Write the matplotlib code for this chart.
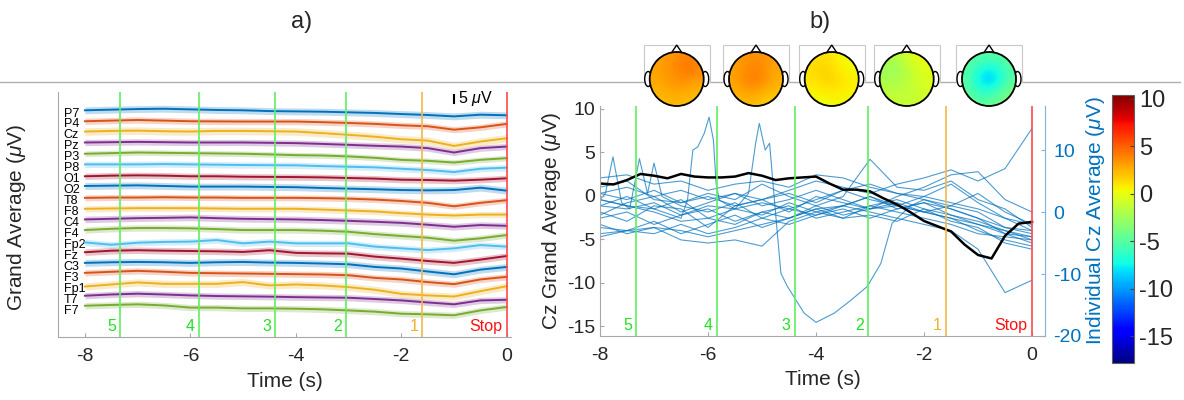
import numpy as np
import matplotlib
matplotlib.use("Agg")
import matplotlib.pyplot as plt
from matplotlib.patches import Circle, Ellipse, Polygon, Rectangle
from matplotlib.colors import Normalize
from matplotlib.cm import ScalarMappable
from matplotlib.transforms import blended_transform_factory

plt.rcParams['font.family'] = ['Liberation Sans', 'DejaVu Sans']
plt.rcParams['mathtext.fontset'] = 'custom'
plt.rcParams['mathtext.rm'] = 'Liberation Sans'
plt.rcParams['mathtext.it'] = 'Liberation Sans:italic'
plt.rcParams['axes.unicode_minus'] = False

# ---------------- data ----------------
# time axis (s), every 0.5 s
time_s = [-8.0, -7.5, -7.0, -6.5, -6.0, -5.5, -5.0, -4.5, -4.0,
          -3.5, -3.0, -2.5, -2.0, -1.5, -1.0, -0.5, 0.0]
# finer time axis (s) for the Cz grand average
time_fine = [-8.0, -7.75, -7.5, -7.25, -7.0, -6.75, -6.5, -6.25, -6.0,
             -5.75, -5.5, -5.25, -5.0, -4.75, -4.5, -4.25, -4.0,
             -3.75, -3.5, -3.25, -3.0, -2.75, -2.5, -2.25, -2.0,
             -1.75, -1.5, -1.25, -1.0, -0.75, -0.5, -0.25, 0.0]

# countdown cues
cue_times = [-7.33, -5.84, -4.39, -3.04, -1.60, 0.0]
cue_labels = ['5', '4', '3', '2', '1', 'Stop']

# a) grand average per channel (uV), top to bottom
channels = ['P7', 'P4', 'Cz', 'Pz', 'P3', 'P8', 'O1', 'O2', 'T8', 'F8',
            'C4', 'F4', 'Fp2', 'Fz', 'C3', 'F3', 'Fp1', 'T7', 'F7']
ch_avg = [
    [1.1, 1.5, 1.9, 2.1, 1.7, 1.3, 1.1, 0.6, 0.4, 0.2, -0.2, -0.6, -1.3, -1.9, -2.8, -1.7, -2.1],   # P7
    [1.1, 1.5, 1.9, 1.5, 1.1, 1.0, 0.9, 0.9, 0.9, 0.5, 0.0, -0.6, -1.5, -2.1, -4.3, -2.8, -0.6],    # P4
    [1.5, 1.9, 2.1, 1.7, 1.5, 1.9, 1.9, 1.7, 1.5, 0.5, -0.6, -1.8, -3.4, -4.3, -7.7, -4.9, -2.8],   # Cz
    [1.5, 1.7, 1.9, 1.7, 1.5, 1.5, 1.5, 1.3, 1.1, 0.6, 0.0, -0.6, -1.1, -2.1, -4.9, -2.1, -1.1],    # Pz
    [1.3, 1.7, 2.1, 1.9, 1.7, 1.5, 1.3, 0.9, 0.4, 0.2, -0.4, -1.3, -2.6, -3.2, -4.3, -2.6, -1.5],   # P3
    [1.5, 1.5, 1.5, 1.7, 1.5, 1.3, 1.1, 1.0, 0.9, 0.4, 0.0, -0.4, -1.3, -2.1, -3.4, -1.3, -0.6],    # P8
    [0.9, 1.3, 1.5, 1.3, 0.9, 0.9, 0.6, 0.5, 0.4, 0.2, -0.2, -0.6, -1.3, -1.5, -1.9, -1.3, -0.4],   # O1
    [1.7, 1.9, 2.1, 1.7, 1.3, 1.3, 1.3, 1.1, 0.9, 0.4, 0.0, -0.4, -0.9, -1.1, -0.9, 0.6, -1.3],     # O2
    [1.1, 1.3, 1.3, 1.5, 1.3, 1.3, 1.1, 1.1, 1.1, 0.9, 0.6, 0.0, -0.9, -2.1, -4.3, -2.1, -0.4],     # T8
    [1.1, 1.3, 1.5, 1.5, 1.5, 1.3, 1.1, 1.1, 1.1, 0.6, 0.0, -0.6, -1.7, -2.6, -3.2, -2.6, -2.6],    # F8
    [1.3, 1.7, 2.1, 2.3, 2.6, 2.1, 1.7, 1.5, 1.3, 0.9, 0.4, -0.2, -0.9, -2.1, -3.4, -2.3, -2.8],    # C4
    [1.5, 2.3, 2.8, 2.8, 2.6, 2.1, 1.5, 1.5, 1.5, 1.1, 0.4, -1.1, -2.3, -3.4, -5.3, -3.8, -1.7],    # F4
    [0.6, -0.9, 0.4, 0.9, 1.1, 2.1, 0.0, 1.1, 0.0, 0.0, 0.0, -2.1, -3.2, -4.3, -3.2, -1.1, -2.1],   # Fp2
    [1.3, 2.3, 2.6, 2.3, 2.1, 1.9, 1.5, 2.6, 0.9, 0.6, 0.4, -1.5, -2.8, -4.3, -5.5, -3.4, -1.1],    # Fz
    [1.5, 1.9, 2.1, 1.9, 1.5, 1.9, 2.1, 1.7, 1.5, 1.1, 0.6, -1.1, -2.1, -4.0, -5.8, -2.8, -1.1],    # C3
    [2.1, 2.8, 3.4, 2.8, 2.1, 1.9, 1.7, 1.5, 1.3, 1.1, 0.6, -1.1, -2.1, -3.8, -5.1, -2.1, -0.4],    # F3
    [0.4, 1.7, 3.0, 2.1, 2.1, 2.1, 3.2, 1.1, 1.7, 1.1, 0.0, -1.7, -4.3, -5.3, -6.0, -2.6, 0.6],     # Fp1
    [1.5, 2.3, 2.8, 2.3, 1.7, 1.3, 1.1, 0.9, 0.6, 0.4, 0.2, -0.6, -1.5, -2.8, -4.0, -1.5, -1.1],    # T7
    [2.1, 2.6, 3.0, 2.3, 0.9, 0.9, 0.4, 0.4, 0.2, -0.2, -0.9, -1.7, -3.0, -3.4, -4.0, -0.9, 1.3],   # F7
]
# half width of the shaded band per channel (uV)
ch_sd = [2.2, 2.0, 2.4, 2.0, 1.8, 2.0, 2.0, 2.2, 1.9, 2.0,
         2.1, 2.0, 2.0, 2.1, 2.2, 2.0, 2.3, 2.0, 2.0]

# b) Cz grand average (uV)
cz_grand = [1.4, 1.3, 1.8, 2.5, 2.3, 2.0, 2.5, 2.2, 2.1, 2.1, 2.2, 2.6, 2.3,
            1.8, 2.0, 2.1, 2.2, 1.4, 0.7, 0.7, 0.5, -0.3, -1.0, -1.9, -2.9,
            -3.5, -4.1, -5.6, -6.8, -7.2, -4.6, -3.2, -3.0]

# b) individual Cz averages (uV), on the 0.5 s grid
cz_subjects = [
    [5.5, 6.0, 4.5, 5.0, 3.5, 4.5, 5.0, 4.0, 6.0, 5.5, 4.0, 3.0, 2.5, 1.5, 0.5, -1.0, -2.0],
    [3.0, 2.0, 3.5, 1.5, 2.5, 1.0, 2.0, 3.0, 1.5, 3.5, 4.5, 3.0, 2.0, 1.0, 0.0, -2.5, -3.0],
    [1.0, 2.5, 0.5, 2.0, -1.0, 0.5, -0.5, 1.5, 0.0, 1.0, 2.5, 0.5, 1.5, -0.5, -1.5, -3.0, -4.5],
    [-1.0, 0.0, -2.0, -0.5, 0.5, -1.5, 0.0, -1.0, 1.0, -0.5, 0.5, 1.5, 0.0, 1.0, 3.0, 0.0, -2.0],
    [-2.5, -3.0, -1.5, -3.5, -2.0, -0.5, -2.5, -1.0, 0.5, -1.0, 1.0, 2.0, 0.5, -1.5, -2.5, -5.0, -6.0],
    [-4.0, -3.0, -3.5, -2.0, -3.5, -2.5, -1.0, -2.0, -0.5, 0.5, -1.0, 0.5, 1.5, 0.5, -1.0, -3.5, -5.0],
    [4.0, 5.0, 2.0, 1.5, 3.0, 2.0, 4.5, 2.5, 1.0, 2.5, 8.5, 4.0, 3.5, 5.0, 2.0, 0.5, -2.5],
    [0.0, -1.5, 1.0, 0.5, -2.5, 1.0, 2.0, 0.0, 2.5, 1.5, 0.5, 2.5, 4.0, 6.0, 6.5, 2.0, 0.0],
    [2.0, 1.0, 0.0, -1.5, -1.0, -2.0, 0.0, 1.0, -1.0, 0.0, 1.0, 0.0, -1.0, -2.0, -3.5, -4.0, -4.5],
    [-0.5, 1.5, 2.5, 0.0, 1.5, 3.0, 1.0, 2.0, 3.5, 2.0, 0.5, 1.0, 2.5, 4.5, 1.5, -1.0, -3.0],
    [-2.0, -3.5, -2.5, -4.5, -5.0, -4.5, -5.5, -1.5, 0.0, -1.0, -0.5, -1.5, 0.5, -0.5, -2.0, -3.5, -4.0],
    [3.0, 4.0, 2.5, 3.5, 2.0, 3.0, 2.0, 3.5, 5.0, 4.0, 3.0, 4.5, 5.5, 6.8, 5.0, 7.0, 13.5],
    [-3.5, -3.0, -2.5, -3.0, -4.0, -3.0, -2.0, -1.0, 0.5, 1.0, 0.0, -1.0, -2.0, -3.0, -6.0, -13.0, -11.0],
]
# subjects with sharp excursions, own time points
subj_a_t = [-8.0, -7.5, -7.0, -6.5, -6.38, -6.28, -6.19, -6.07, -5.98, -5.90, -5.85, -5.79,
            -5.5, -5.0, -4.5, -4.0, -3.5, -3.0, -2.5, -2.0, -1.5, -1.0, -0.5, 0.0]
subj_a_v = [2.0, 1.0, 0.5, -1.0, 1.9, 10.0, 10.5, 12.7, 15.3, 11.6, 4.6, 1.9,
            0.5, 1.5, 0.5, -0.5, 1.0, 2.5, 1.0, 0.0, -1.0, -2.0, -3.0, -4.0]
subj_b_t = [-8.0, -7.5, -7.0, -6.5, -6.0, -5.5, -5.25, -5.12, -5.05, -4.98, -4.94, -4.86,
            -4.77, -4.65, -4.53, -4.22, -4.0, -3.66, -3.35, -3.05, -2.8, -2.59,
            -2.25, -2.0, -1.5, -1.0, -0.5, 0.0]
subj_b_v = [1.0, 0.5, 1.5, -0.5, 1.0, 0.5, 3.0, 11.0, 14.3, 11.5, 10.0, 11.1,
            1.9, -9.9, -12.0, -16.3, -17.8, -16.3, -14.2, -12.0, -8.3, -1.8,
            1.0, 2.0, 0.5, -1.0, -2.5, -3.5]
subj_c_t = [-8.0, -7.9, -7.76, -7.6, -7.45, -7.27, -7.12, -7.0, -6.85, -6.5, -6.0, -5.5,
            -5.0, -4.5, -4.0, -3.5, -3.0, -2.5, -2.0, -1.5, -1.0, -0.5, 0.0]
subj_c_v = [2.0, 3.0, 8.9, 1.5, 0.5, 8.6, 3.0, 7.9, 2.5, 1.0, 0.0, 1.5,
            -1.0, 0.5, 2.0, 3.5, 2.0, 1.0, 0.0, -1.0, -3.0, -4.5, -5.5]

# scalp maps (uV), 5x5 samples each, front at top
topo_1 = [[3.0, 3.2, 3.6, 4.0, 3.6], [3.0, 3.3, 3.8, 4.5, 3.8], [2.8, 3.2, 3.5, 3.6, 3.2],
          [2.5, 2.8, 3.0, 2.8, 2.5], [2.2, 2.3, 2.4, 2.2, 2.0]]
topo_2 = [[3.0, 3.4, 3.6, 3.4, 3.0], [3.0, 3.6, 3.8, 3.4, 2.8], [3.0, 3.8, 4.2, 3.4, 2.6],
          [2.6, 3.2, 3.2, 2.6, 2.2], [2.2, 2.4, 2.2, 1.8, 1.6]]
topo_3 = [[1.0, 1.2, 1.0, 0.4, 0.2], [1.2, 1.6, 1.2, 0.6, 0.3], [1.0, 1.4, 1.6, 1.0, 0.6],
          [0.6, 0.8, 1.0, 0.8, 0.6], [0.2, 0.2, 0.4, 0.4, 0.4]]
topo_4 = [[-2.0, -1.8, -0.8, 0.0, 0.2], [-2.4, -2.6, -1.6, -0.6, -0.2], [-2.2, -2.2, -1.6, -0.8, -0.4],
          [-1.6, -1.6, -1.4, -1.0, -0.6], [-1.2, -1.2, -1.2, -1.0, -0.8]]
topo_5 = [[-4.5, -5.0, -5.2, -5.0, -4.5], [-5.0, -6.5, -7.5, -6.5, -5.0], [-5.2, -7.5, -9.0, -7.5, -5.0],
          [-4.8, -6.5, -7.0, -5.5, -4.0], [-4.2, -5.0, -4.8, -4.0, -3.4]]
topo_maps = [topo_1, topo_2, topo_3, topo_4, topo_5]
cbar_ticks = [-15, -10, -5, 0, 5, 10]

# ---------------- style ----------------
matlab_colors = ['#0072BD', '#D95319', '#EDB120', '#7E2F8E', '#77AC30', '#4DBEEE', '#A2142F']
cue_line_colors = ['#60f060'] * 4 + ['#f2b84b', '#ff4a4a']
cue_text_colors = ['#22e022'] * 4 + ['#f0b030', '#ff1010']
axis_gray = '#a8a8a8'
text_dark = '#262626'
blue = '#0072BD'

fig = plt.figure(figsize=(11.84, 4.0), dpi=100)

# overlay for the separator line and the scalp maps (pixel coordinates)
ov = fig.add_axes([0, 0, 1, 1])
ov.axis('off')
ov.plot([0, 1180], [82, 82], color='#b0b0b0', lw=1, zorder=0)

norm = Normalize(vmin=-17.8, vmax=10.4)
head_x = [676.7, 756, 831.7, 906.7, 989]
head_y, r = 79, 27
for cx, tmap in zip(head_x, topo_maps):
    ov.add_patch(Rectangle((cx - 33, 45), 66, 37, fill=False, ec='#c8c8c8', lw=0.8, zorder=0))
    for sx in (-1, 1):
        ov.add_patch(Ellipse((cx + sx * (r + 1.5), head_y), 7, 15, fc='white', ec='black', lw=1, zorder=1))
    ov.add_patch(Polygon([[cx - 6, head_y - r + 2], [cx, head_y - r - 7], [cx + 6, head_y - r + 2]],
                         closed=True, fc='white', ec='black', lw=1, zorder=1))
    im = ov.imshow(np.array(tmap), cmap='jet', norm=norm, interpolation='bicubic',
                   extent=(cx - r, cx + r, head_y + r, head_y - r), aspect='auto', zorder=2)
    im.set_clip_path(Circle((cx, head_y), r, transform=ov.transData))
    ov.add_patch(Circle((cx, head_y), r, fill=False, ec='black', lw=1.3, zorder=3))
ov.set_xlim(0, 1184)
ov.set_ylim(400, 0)

fig.text(302 / 1184, 1 - 22 / 400, 'a)', fontsize=17, ha='center', va='center', color=text_dark)
fig.text(820 / 1184, 1 - 22 / 400, 'b)', fontsize=17, ha='center', va='center', color=text_dark)

# ---------------- a) ----------------
axa = fig.add_axes([58 / 1184, 63 / 400, 453 / 1184, 245 / 400])
n = len(channels)
spacing = 7.0
offsets = [(n - 1 - i) * spacing for i in range(n)]
for i, (vals, sd) in enumerate(zip(ch_avg, ch_sd)):
    c = matlab_colors[i % 7]
    y = np.array(vals) + offsets[i]
    axa.fill_between(time_s, y - sd, y + sd, color=c, alpha=0.25, lw=0)
    axa.plot(time_s, y, color=c, lw=1.4)

tra = blended_transform_factory(axa.transData, axa.transAxes)
for t, lab, lc, tc in zip(cue_times, cue_labels, cue_line_colors, cue_text_colors):
    axa.axvline(t, color=lc, lw=1.2)
    axa.text(t - 0.08, 0.012, lab, color=tc, fontsize=11.5, ha='right', va='bottom', transform=tra)

# 5 uV scale bar
axa.plot([-1.0, -1.0], [132, 137], color='black', lw=1.5)
axa.text(-0.92, 134.5, r'5 $\mu$V', fontsize=11.5, ha='left', va='center', color='black')

axa.set_xlim(-8.51, 0.08)
axa.set_ylim(-17.9, 138.8)
axa.set_xticks([-8, -6, -4, -2, 0])
axa.set_yticks(offsets, channels)
axa.tick_params(axis='y', length=0, pad=-4, labelsize=9, labelcolor='black')
for lbl in axa.get_yticklabels():
    lbl.set_ha('left')
axa.tick_params(axis='x', direction='in', length=3, pad=8, color=axis_gray,
                labelsize=14, labelcolor=text_dark)
for s in ['top', 'right']:
    axa.spines[s].set_visible(False)
for s in ['left', 'bottom']:
    axa.spines[s].set_color(axis_gray)
axa.set_xlabel('Time (s)', fontsize=15, color=text_dark, labelpad=5)
axa.set_ylabel(r'Grand Average ($\mu$V)', fontsize=15, color=text_dark)
axa.yaxis.set_label_coords(-0.066, 0.49)

# ---------------- b) ----------------
axb = fig.add_axes([600 / 1184, 64 / 400, 445 / 1184, 230 / 400])
axb2 = axb.twinx()
for vals in cz_subjects:
    axb2.plot(time_s, vals, color=blue, lw=0.8, alpha=0.7)
for tt, vv in [(subj_a_t, subj_a_v), (subj_b_t, subj_b_v), (subj_c_t, subj_c_v)]:
    axb2.plot(tt, vv, color=blue, lw=0.8, alpha=0.7)
axb2.set_ylim(-19.9, 17.1)
axb2.set_yticks([-20, -10, 0, 10])
axb2.tick_params(axis='y', direction='in', length=3, pad=6, color='#7fb3dc',
                 labelsize=14, labelcolor=blue)
for s in ['top', 'left', 'bottom']:
    axb2.spines[s].set_visible(False)
axb2.spines['right'].set_color('#7fb3dc')
axb2.set_ylabel(r'Individual Cz Average ($\mu$V)', fontsize=15, color=blue)
axb2.yaxis.set_label_coords(1.088, 0.5)

axb.set_zorder(axb2.get_zorder() + 1)
axb.patch.set_visible(False)
axb.plot(time_fine, cz_grand, color='black', lw=1.8)
trb = blended_transform_factory(axb.transData, axb.transAxes)
for t, lab, lc, tc in zip(cue_times, cue_labels, cue_line_colors, cue_text_colors):
    axb.axvline(t, color=lc, lw=1.2)
    axb.text(t - 0.08, 0.012, lab, color=tc, fontsize=11.5, ha='right', va='bottom', transform=trb)
axb.set_xlim(-8, 0.24)
axb.set_ylim(-16.1, 10.3)
axb.set_xticks([-8, -6, -4, -2, 0])
axb.set_yticks([-15, -10, -5, 0, 5, 10])
axb.tick_params(axis='x', direction='in', length=3, pad=8, color=axis_gray,
                labelsize=14, labelcolor=text_dark)
axb.tick_params(axis='y', direction='in', length=3, color=axis_gray,
                labelsize=14, labelcolor=text_dark)
for s in ['top', 'right']:
    axb.spines[s].set_visible(False)
for s in ['left', 'bottom']:
    axb.spines[s].set_color(axis_gray)
axb.set_xlabel('Time (s)', fontsize=15, color=text_dark, labelpad=4)
axb.set_ylabel(r'Cz Grand Average ($\mu$V)', fontsize=15, color=text_dark)
axb.yaxis.set_label_coords(-0.083, 0.5)

# colorbar for the scalp maps
cax = fig.add_axes([1112 / 1184, 37 / 400, 22 / 1184, 268 / 400])
cb = fig.colorbar(ScalarMappable(norm=norm, cmap='jet'), cax=cax, ticks=cbar_ticks)
cb.outline.set_edgecolor('#606060')
cax.tick_params(labelsize=17, length=3, direction='in', color='#404040', labelcolor=text_dark)

fig.savefig('out.png', dpi=100)
